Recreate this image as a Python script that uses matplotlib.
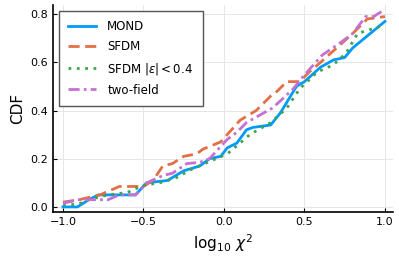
import matplotlib
matplotlib.use("Agg")
from matplotlib import pyplot as plt

plt.rcParams['mathtext.fontset'] = 'dejavusans'

# series (log10 chi^2, CDF)
mond_x = [-1.0, -0.91, -0.84, -0.78, -0.55, -0.48, -0.35, -0.25, -0.15, -0.09, -0.02, 0.02, 0.08,
          0.14, 0.18, 0.29, 0.35, 0.45, 0.5, 0.6, 0.68, 0.75, 0.8, 1.0]
mond_y = [0.0, 0.0, 0.03, 0.05, 0.05, 0.1, 0.11, 0.15, 0.17, 0.2, 0.21, 0.245, 0.265,
          0.32, 0.33, 0.34, 0.39, 0.5, 0.52, 0.58, 0.61, 0.62, 0.66, 0.77]

sfdm_x = [-1.0, -0.9, -0.77, -0.65, -0.5, -0.44, -0.38, -0.32, -0.25, -0.17, -0.13, -0.02, 0.1,
          0.2, 0.29, 0.33, 0.39, 0.47, 0.53, 0.6, 0.7, 0.8, 0.89, 1.0]
sfdm_y = [0.02, 0.03, 0.05, 0.085, 0.085, 0.11, 0.17, 0.18, 0.21, 0.22, 0.24, 0.27, 0.36,
          0.4, 0.46, 0.48, 0.52, 0.52, 0.56, 0.6, 0.66, 0.72, 0.78, 0.79]

sfdm04_x = [-1.0, -0.91, -0.84, -0.72, -0.6, -0.5, -0.4, -0.3, -0.19, -0.05, 0.02, 0.1, 0.16,
            0.29, 0.39, 0.47, 0.58, 0.68, 0.76, 0.83, 1.0]
sfdm04_y = [0.01, 0.01, 0.03, 0.05, 0.06, 0.09, 0.1, 0.12, 0.16, 0.2, 0.22, 0.265, 0.3,
            0.35, 0.41, 0.49, 0.56, 0.59, 0.64, 0.72, 0.755]

twofield_x = [-1.0, -0.9, -0.72, -0.65, -0.55, -0.48, -0.38, -0.32, -0.23, -0.15, -0.09, 0.02,
              0.08, 0.14, 0.22, 0.3, 0.35, 0.43, 0.49, 0.61, 0.72, 0.8, 0.88, 0.93, 1.0]
twofield_y = [0.015, 0.03, 0.03, 0.05, 0.05, 0.1, 0.13, 0.14, 0.18, 0.185, 0.2, 0.28,
              0.31, 0.35, 0.38, 0.41, 0.44, 0.49, 0.54, 0.63, 0.68, 0.72, 0.79, 0.79, 0.82]

xticks = [-1.0, -0.5, 0.0, 0.5, 1.0]
yticks = [0.0, 0.2, 0.4, 0.6, 0.8]

fig = plt.figure(figsize=(3.99, 2.66), dpi=100)
ax = fig.add_axes([53 / 399, 54 / 266, 340 / 399, 207 / 266])

ax.plot(mond_x, mond_y, color='#009AFA', lw=2, label='MOND')
ax.plot(sfdm_x, sfdm_y, color='#E36F47', lw=2, ls=(0, (4, 2)), label='SFDM')
ax.plot(sfdm04_x, sfdm04_y, color='#3EA44E', lw=2, ls=(0, (1, 2)), label=r'SFDM $|\varepsilon| < 0.4$')
ax.plot(twofield_x, twofield_y, color='#C371D2', lw=2, ls=(0, (4, 1.5, 1, 1.5)), label='two-field')

ax.set_xlim(-1.062, 1.05)
ax.set_ylim(-0.021, 0.838)
ax.set_xticks(xticks)
ax.set_yticks(yticks)
ax.set_xticklabels(['\u22121.0', '\u22120.5', '0.0', '0.5', '1.0'])
ax.set_yticklabels(['0.0', '0.2', '0.4', '0.6', '0.8'])
ax.tick_params(direction='in', length=3, labelsize=8, width=0.8)
ax.grid(True, color='#e6e6e6', lw=0.7)
ax.set_axisbelow(True)
for s in ['top', 'right']:
    ax.spines[s].set_visible(False)
for s in ['left', 'bottom']:
    ax.spines[s].set_linewidth(1.2)

ax.set_xlabel(r'$\log_{10}\,\chi^2$', fontsize=11, labelpad=4)
ax.set_ylabel('CDF', fontsize=11)

leg = ax.legend(loc='upper left', fontsize=8.5, fancybox=False, framealpha=1,
                edgecolor='#555555', handlelength=2.3, handletextpad=1.0,
                borderpad=0.8, labelspacing=0.6, borderaxespad=0.5)
leg.get_frame().set_linewidth(1.0)

fig.savefig('out.png', dpi=100)
